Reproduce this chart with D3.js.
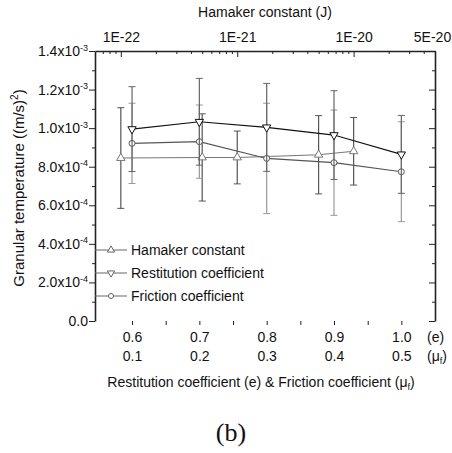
<!DOCTYPE html>
<html>
<head>
<meta charset="utf-8">
<script src="https://cdn.jsdelivr.net/npm/d3@7"></script>
<style>
  body { margin: 0; background: #fff; }
  text { font-family: "Liberation Sans", Arial, sans-serif; }
</style>
</head>
<body>
<svg id="chart" width="452" height="453"></svg>
<script>
"use strict";

// bottom axes: restitution coefficient (e) and friction coefficient (mu_f)
const restitution = [0.6, 0.7, 0.8, 0.9, 1.0];
const friction = [0.1, 0.2, 0.3, 0.4, 0.5];
// top axis: Hamaker constant (J)
const hamaker = [1e-22, 5e-22, 1e-21, 5e-21, 1e-20];

// granular temperature ((m/s)^2) and error bar half widths
const tempRest = [9.95e-4, 10.33e-4, 10.04e-4, 9.64e-4, 8.64e-4];
const errRest = [2.2e-4, 2.25e-4, 2.28e-4, 2.3e-4, 2.02e-4];
const tempFric = [9.21e-4, 9.3e-4, 8.43e-4, 8.21e-4, 7.74e-4];
const errFric = [2.08e-4, 1.9e-4, 2.86e-4, 2.73e-4, 2.59e-4];
const tempHam = [8.45e-4, 8.48e-4, 8.48e-4, 8.62e-4, 8.8e-4];
const errHam = [2.61e-4, 2.26e-4, 1.37e-4, 2.03e-4, 1.75e-4];

const yTicks = [0, 2e-4, 4e-4, 6e-4, 8e-4, 1.0e-3, 1.2e-3, 1.4e-3];
const yTickText = [["0.0", ""], ["2.0x10", "-4"], ["4.0x10", "-4"], ["6.0x10", "-4"],
                   ["8.0x10", "-4"], ["1.0x10", "-3"], ["1.2x10", "-3"], ["1.4x10", "-3"]];
const hamTicks = [1e-22, 1e-21, 1e-20, 5e-20];
const hamTickText = ["1E-22", "1E-21", "1E-20", "5E-20"];

const svg = d3.select("#chart");
const pLeft = 95, pRight = 435, pTop = 51, pBottom = 321;

const x = d3.scaleLinear().domain([0.545, 1.05]).range([pLeft, pRight]);
const xMu = d3.scaleLinear().domain([0.045, 0.55]).range([pLeft, pRight]);
const xH = d3.scaleLog().domain([6e-23, 5e-20]).range([pLeft, pRight]);
const y = d3.scaleLinear().domain([0, 1.4e-3]).range([pBottom, pTop]);

const axisColor = "#222";

function styleAxis(g, size) {
    g.selectAll("text").attr("font-size", size || 14).attr("fill", "#111");
    g.selectAll("line").attr("stroke", axisColor);
    g.select(".domain").attr("stroke", axisColor).attr("stroke-width", 1.6);
}

// ----- left axis -----
const minorY = d3.range(1e-4, 1.4e-3, 2e-4);
svg.append("g").attr("transform", "translate(" + pLeft + ",0)")
    .call(d3.axisLeft(y).tickValues(minorY).tickSize(3).tickFormat(""))
    .call(g => g.select(".domain").remove())
    .selectAll("line").attr("stroke", axisColor);
const gl = svg.append("g").attr("transform", "translate(" + pLeft + ",0)")
    .call(d3.axisLeft(y).tickValues(yTicks).tickSize(6).tickSizeOuter(0).tickFormat(""));
styleAxis(gl);
yTicks.forEach(function(v, i) {
    const t = svg.append("text")
        .attr("x", pLeft - 7).attr("y", y(v) + 5)
        .attr("text-anchor", "end").attr("font-size", 14).attr("fill", "#111");
    t.append("tspan").text(yTickText[i][0]);
    if (yTickText[i][1]) {
        t.append("tspan").attr("dy", -5.5).attr("font-size", 9).text(yTickText[i][1]);
    }
});

// ----- right axis (ticks inward, no labels) -----
svg.append("g").attr("transform", "translate(" + pRight + ",0)")
    .call(d3.axisLeft(y).tickValues(minorY).tickSize(3).tickFormat(""))
    .call(g => g.select(".domain").remove())
    .selectAll("line").attr("stroke", axisColor);
const gr = svg.append("g").attr("transform", "translate(" + pRight + ",0)")
    .call(d3.axisLeft(y).tickValues(yTicks).tickSize(6).tickSizeOuter(0).tickFormat(""));
styleAxis(gr);

// ----- top axis: Hamaker constant (log) -----
const hamMinor = [7e-23, 8e-23, 9e-23];
[1e-22, 1e-21, 1e-20].forEach(function(d) {
    for (let k = 2; k <= 9; k++) {
        if (d * k <= 5e-20) hamMinor.push(d * k);
    }
});
svg.append("g").attr("transform", "translate(0," + pTop + ")")
    .call(d3.axisTop(xH).tickValues(hamMinor).tickSize(-3).tickFormat(""))
    .call(g => g.select(".domain").remove())
    .selectAll("line").attr("stroke", axisColor);
const gt = svg.append("g").attr("transform", "translate(0," + pTop + ")")
    .call(d3.axisTop(xH).tickValues(hamTicks).tickSize(-6).tickSizeOuter(0)
        .tickPadding(9).tickFormat((d, i) => hamTickText[i]));
styleAxis(gt);
// last label sits at the window edge; nudge it inside
gt.selectAll(".tick text").filter(d => d === 5e-20).attr("dx", -3);

svg.append("text")
    .attr("x", 265).attr("y", 17)
    .attr("text-anchor", "middle").attr("font-size", 14).attr("fill", "#111")
    .text("Hamaker constant (J)");

// ----- bottom axes: e and mu_f -----
const eTicks = d3.range(0.6, 1.0001, 0.05);
const gb = svg.append("g").attr("transform", "translate(0," + pBottom + ")")
    .call(d3.axisBottom(x).tickValues(eTicks).tickSize(4).tickPadding(7)
        .tickFormat(d => (Math.abs(d * 10 - Math.round(d * 10)) < 1e-6) ? d3.format(".1f")(d) : ""));
styleAxis(gb);
gb.select(".domain").remove();

const gm = svg.append("g").attr("transform", "translate(0," + pBottom + ")")
    .call(d3.axisBottom(xMu).tickValues(friction).tickSize(0).tickPadding(30)
        .tickFormat(d3.format(".1f")));
styleAxis(gm);
gm.select(".domain").remove();

svg.append("text").attr("x", 427).attr("y", 342).attr("font-size", 14).attr("fill", "#111").text("(e)");
const muLab = svg.append("text").attr("x", 427).attr("y", 361).attr("font-size", 14).attr("fill", "#111");
muLab.append("tspan").text("(\u03bc");
muLab.append("tspan").attr("font-size", 9).attr("dy", 3).text("f");
muLab.append("tspan").attr("dy", -3).text(")");

const xt = svg.append("text").attr("x", 261).attr("y", 387)
    .attr("text-anchor", "middle").attr("font-size", 14).attr("fill", "#111");
xt.append("tspan").text("Restitution coefficient (e) & Friction coefficient (\u03bc");
xt.append("tspan").attr("font-size", 9).attr("dy", 3).text("f");
xt.append("tspan").attr("dy", -3).text(")");

// y title
const yt = svg.append("text")
    .attr("transform", "translate(24,188) rotate(-90)")
    .attr("text-anchor", "middle").attr("font-size", 15).attr("fill", "#111");
yt.append("tspan").text("Granular temperature ((m/s)");
yt.append("tspan").attr("font-size", 10).attr("dy", -6).text("2");
yt.append("tspan").attr("dy", 6).text(")");

// ----- series -----
const series = [
    {name: "Hamaker constant", xs: hamaker.map(d => xH(d)), t: tempHam, err: errHam,
     line: "#777", bar: "#555", symbol: d3.symbolTriangle, rot: 0},
    {name: "Friction coefficient", xs: friction.map(d => xMu(d)), t: tempFric, err: errFric,
     line: "#555", bar: "#999", symbol: d3.symbolCircle, rot: 0},
    {name: "Restitution coefficient", xs: restitution.map(d => x(d)), t: tempRest, err: errRest,
     line: "#111", bar: "#666", symbol: d3.symbolTriangle, rot: 180}
];

series.forEach(function(s) {
    const g = svg.append("g");
    s.t.forEach(function(v, i) {
        const cx = s.xs[i];
        const y1 = y(v + s.err[i]), y0 = y(v - s.err[i]);
        g.append("line").attr("x1", cx).attr("x2", cx).attr("y1", y1).attr("y2", y0)
            .attr("stroke", s.bar).attr("stroke-width", 1.2);
        [y0, y1].forEach(function(yy) {
            g.append("line").attr("x1", cx - 3.5).attr("x2", cx + 3.5).attr("y1", yy).attr("y2", yy)
                .attr("stroke", s.bar).attr("stroke-width", 1);
        });
    });
    const line = d3.line().x((d, i) => s.xs[i]).y(d => y(d));
    g.append("path").datum(s.t).attr("d", line)
        .attr("fill", "none").attr("stroke", s.line).attr("stroke-width", 1.1);
    const sym = d3.symbol().type(s.symbol).size(s.symbol === d3.symbolCircle ? 28 : 30);
    s.t.forEach(function(v, i) {
        g.append("path").attr("d", sym)
            .attr("transform", "translate(" + s.xs[i] + "," + y(v) + ") rotate(" + s.rot + ")")
            .attr("fill", "#fff").attr("stroke", s.line).attr("stroke-width", 1);
    });
});

// ----- legend -----
const legendItems = [series[0], series[2], series[1]];
legendItems.forEach(function(s, i) {
    const ly = 250 + i * 23;
    svg.append("line").attr("x1", pLeft).attr("x2", 127).attr("y1", ly).attr("y2", ly)
        .attr("stroke", "#666").attr("stroke-width", 1);
    const sym = d3.symbol().type(s.symbol).size(s.symbol === d3.symbolCircle ? 20 : 22);
    svg.append("path").attr("d", sym)
        .attr("transform", "translate(111," + ly + ") rotate(" + s.rot + ")")
        .attr("fill", "#fff").attr("stroke", "#666").attr("stroke-width", 1);
    svg.append("text").attr("x", 131).attr("y", ly + 5)
        .attr("font-size", 14).attr("fill", "#111").text(s.name);
});

// panel label
svg.append("text").attr("x", 231).attr("y", 441)
    .attr("text-anchor", "middle").attr("font-size", 26)
    .style("font-family", "'Liberation Serif', 'Times New Roman', serif")
    .attr("fill", "#111").text("(b)");
</script>
</body>
</html>
